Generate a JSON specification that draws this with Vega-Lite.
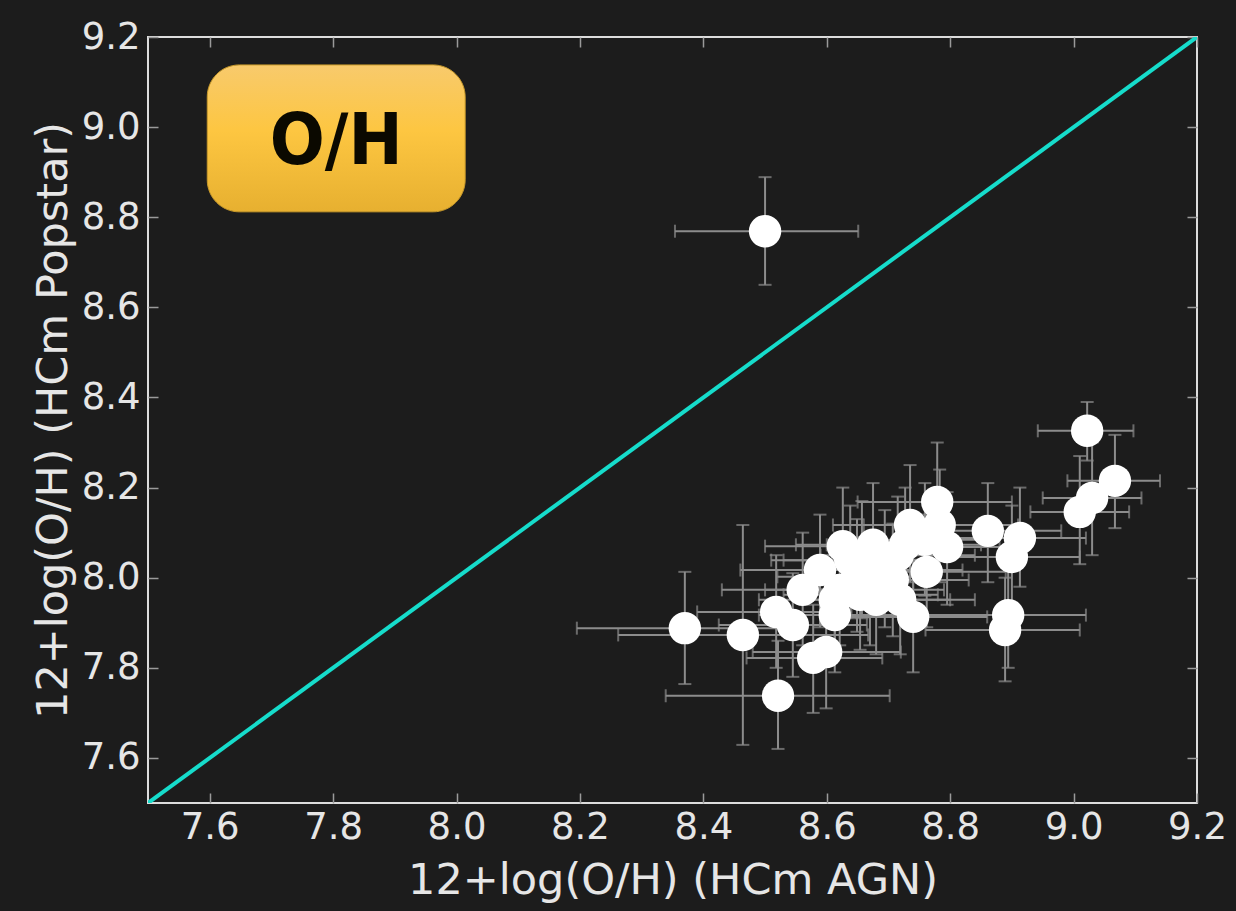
{
  "$schema": "https://vega.github.io/schema/vega-lite/v6.json",
  "width": 1049,
  "height": 766,
  "autosize": {"type": "none"},
  "padding": {"left": 148, "top": 37, "right": 39, "bottom": 108},
  "background": "#1c1c1c",
  "config": {
    "view": {"stroke": "#dcdcdc", "strokeWidth": 2},
    "axis": {
      "grid": false,
      "domain": false,
      "tickColor": "#9a9a9a",
      "tickWidth": 1.5,
      "tickSize": 10,
      "offset": -10,
      "labelFlush": false,
      "labelFont": "DejaVu Sans",
      "labelFontSize": 37,
      "labelColor": "#e6e6e6",
      "titleFont": "DejaVu Sans",
      "titleFontSize": 43,
      "titleFontWeight": "normal",
      "titleColor": "#e6e6e6"
    }
  },
  "datasets": {
    "pts": [
      {"x": 8.500, "y": 8.769, "xlo": 8.354, "xhi": 8.651, "ylo": 8.650, "yhi": 8.889},
      {"x": 8.370, "y": 7.888, "xlo": 8.195, "xhi": 8.545, "ylo": 7.764, "yhi": 8.013},
      {"x": 8.464, "y": 7.873, "xlo": 8.262, "xhi": 8.667, "ylo": 7.629, "yhi": 8.117},
      {"x": 8.521, "y": 7.738, "xlo": 8.339, "xhi": 8.702, "ylo": 7.620, "yhi": 7.860},
      {"x": 8.518, "y": 7.924, "xlo": 8.390, "xhi": 8.640, "ylo": 7.800, "yhi": 8.050},
      {"x": 8.545, "y": 7.895, "xlo": 8.425, "xhi": 8.665, "ylo": 7.780, "yhi": 8.010},
      {"x": 8.578, "y": 7.822, "xlo": 8.470, "xhi": 8.690, "ylo": 7.700, "yhi": 7.940},
      {"x": 8.599, "y": 7.835, "xlo": 8.480, "xhi": 8.720, "ylo": 7.710, "yhi": 7.960},
      {"x": 8.613, "y": 7.917, "xlo": 8.490, "xhi": 8.740, "ylo": 7.790, "yhi": 8.040},
      {"x": 8.561, "y": 7.973, "xlo": 8.430, "xhi": 8.690, "ylo": 7.850, "yhi": 8.100},
      {"x": 8.589, "y": 8.017, "xlo": 8.460, "xhi": 8.720, "ylo": 7.890, "yhi": 8.140},
      {"x": 8.626, "y": 8.070, "xlo": 8.500, "xhi": 8.750, "ylo": 7.940, "yhi": 8.200},
      {"x": 8.675, "y": 8.073, "xlo": 8.550, "xhi": 8.800, "ylo": 7.940, "yhi": 8.210},
      {"x": 8.649, "y": 8.002, "xlo": 8.520, "xhi": 8.780, "ylo": 7.880, "yhi": 8.130},
      {"x": 8.621, "y": 7.973, "xlo": 8.500, "xhi": 8.740, "ylo": 7.850, "yhi": 8.100},
      {"x": 8.707, "y": 7.995, "xlo": 8.580, "xhi": 8.830, "ylo": 7.870, "yhi": 8.120},
      {"x": 8.680, "y": 7.951, "xlo": 8.560, "xhi": 8.800, "ylo": 7.830, "yhi": 8.080},
      {"x": 8.740, "y": 7.913, "xlo": 8.620, "xhi": 8.860, "ylo": 7.790, "yhi": 8.040},
      {"x": 8.762, "y": 8.013, "xlo": 8.640, "xhi": 8.890, "ylo": 7.890, "yhi": 8.140},
      {"x": 8.735, "y": 8.117, "xlo": 8.610, "xhi": 8.860, "ylo": 7.990, "yhi": 8.250},
      {"x": 8.779, "y": 8.168, "xlo": 8.650, "xhi": 8.900, "ylo": 8.040, "yhi": 8.300},
      {"x": 8.795, "y": 8.068, "xlo": 8.670, "xhi": 8.920, "ylo": 7.940, "yhi": 8.190},
      {"x": 8.783, "y": 8.117, "xlo": 8.660, "xhi": 8.910, "ylo": 7.990, "yhi": 8.240},
      {"x": 8.715, "y": 8.050, "xlo": 8.590, "xhi": 8.840, "ylo": 7.920, "yhi": 8.180},
      {"x": 8.657, "y": 8.039, "xlo": 8.530, "xhi": 8.780, "ylo": 7.910, "yhi": 8.170},
      {"x": 8.638, "y": 8.039, "xlo": 8.510, "xhi": 8.770, "ylo": 7.910, "yhi": 8.160},
      {"x": 8.694, "y": 8.017, "xlo": 8.570, "xhi": 8.820, "ylo": 7.890, "yhi": 8.150},
      {"x": 8.727, "y": 8.073, "xlo": 8.600, "xhi": 8.850, "ylo": 7.950, "yhi": 8.200},
      {"x": 8.759, "y": 8.084, "xlo": 8.630, "xhi": 8.880, "ylo": 7.960, "yhi": 8.210},
      {"x": 8.670, "y": 7.973, "xlo": 8.550, "xhi": 8.790, "ylo": 7.850, "yhi": 8.100},
      {"x": 8.719, "y": 7.951, "xlo": 8.600, "xhi": 8.840, "ylo": 7.830, "yhi": 8.070},
      {"x": 8.613, "y": 7.951, "xlo": 8.490, "xhi": 8.740, "ylo": 7.830, "yhi": 8.080},
      {"x": 8.654, "y": 7.962, "xlo": 8.530, "xhi": 8.780, "ylo": 7.840, "yhi": 8.090},
      {"x": 8.861, "y": 8.104, "xlo": 8.740, "xhi": 8.980, "ylo": 7.990, "yhi": 8.210},
      {"x": 8.913, "y": 8.088, "xlo": 8.800, "xhi": 9.020, "ylo": 7.980, "yhi": 8.200},
      {"x": 8.900, "y": 8.046, "xlo": 8.780, "xhi": 9.010, "ylo": 7.930, "yhi": 8.160},
      {"x": 8.894, "y": 7.917, "xlo": 8.760, "xhi": 9.020, "ylo": 7.800, "yhi": 8.030},
      {"x": 8.889, "y": 7.884, "xlo": 8.760, "xhi": 9.010, "ylo": 7.770, "yhi": 8.000},
      {"x": 9.022, "y": 8.326, "xlo": 8.942, "xhi": 9.097, "ylo": 8.260, "yhi": 8.390},
      {"x": 9.067, "y": 8.215, "xlo": 8.990, "xhi": 9.140, "ylo": 8.110, "yhi": 8.317},
      {"x": 9.030, "y": 8.177, "xlo": 8.950, "xhi": 9.110, "ylo": 8.050, "yhi": 8.300},
      {"x": 9.010, "y": 8.146, "xlo": 8.930, "xhi": 9.090, "ylo": 8.030, "yhi": 8.270}
    ],
    "diag": [{"x": 7.5, "y": 7.5}, {"x": 9.2, "y": 9.2}],
    "badge": [{"x1": 7.596, "x2": 8.014, "y1": 8.812, "y2": 9.138, "xc": 7.805, "yc": 8.972, "label": "O/H"}]
  },
  "layer": [
    {
      "data": {"name": "diag"},
      "mark": {"type": "line", "color": "#16dccb", "strokeWidth": 4, "clip": true},
      "encoding": {
        "x": {"field": "x", "type": "quantitative", "scale": {"domain": [7.5, 9.2], "nice": false, "zero": false},
              "axis": {"orient": "top", "labels": false, "title": null, "values": [7.6, 7.8, 8.0, 8.2, 8.4, 8.6, 8.8, 9.0, 9.2]}},
        "y": {"field": "y", "type": "quantitative", "scale": {"domain": [7.5, 9.2], "nice": false, "zero": false},
              "axis": {"orient": "right", "labels": false, "title": null, "values": [7.6, 7.8, 8.0, 8.2, 8.4, 8.6, 8.8, 9.0, 9.2]}}
      }
    },
    {
      "data": {"name": "badge"},
      "mark": {"type": "rect", "cornerRadius": 32, "stroke": "#c99a2a", "strokeWidth": 1,
               "fill": {"gradient": "linear", "x1": 0, "y1": 0, "x2": 0, "y2": 1,
                        "stops": [{"offset": 0, "color": "#f8ca6c"}, {"offset": 0.45, "color": "#fdc641"}, {"offset": 1, "color": "#e7b030"}]}},
      "encoding": {
        "x": {"field": "x1", "type": "quantitative", "axis": null},
        "x2": {"field": "x2"},
        "y": {"field": "y1", "type": "quantitative", "axis": null},
        "y2": {"field": "y2"}
      }
    },
    {
      "data": {"name": "badge"},
      "mark": {"type": "text", "font": "DejaVu Sans Condensed, Liberation Sans Narrow, DejaVu Sans", "fontWeight": "bold", "fontSize": 72, "color": "#0b0900", "baseline": "middle", "align": "center", "dy": 2},
      "encoding": {
        "x": {"field": "xc", "type": "quantitative", "axis": null},
        "y": {"field": "yc", "type": "quantitative", "axis": null},
        "text": {"field": "label"}
      }
    },
    {
      "data": {"name": "pts"},
      "mark": {"type": "rule", "color": "#8c8c8c", "strokeWidth": 2},
      "encoding": {
        "x": {"field": "xlo", "type": "quantitative", "axis": null},
        "x2": {"field": "xhi"},
        "y": {"field": "y", "type": "quantitative", "axis": null}
      }
    },
    {
      "data": {"name": "pts"},
      "mark": {"type": "rule", "color": "#8c8c8c", "strokeWidth": 2},
      "encoding": {
        "x": {"field": "x", "type": "quantitative", "axis": null},
        "y": {"field": "ylo", "type": "quantitative", "axis": null},
        "y2": {"field": "yhi"}
      }
    },
    {
      "data": {"name": "pts"},
      "mark": {"type": "tick", "orient": "horizontal", "color": "#8c8c8c", "size": 13, "thickness": 2},
      "encoding": {
        "x": {"field": "x", "type": "quantitative", "axis": null},
        "y": {"field": "ylo", "type": "quantitative", "axis": null}
      }
    },
    {
      "data": {"name": "pts"},
      "mark": {"type": "tick", "orient": "horizontal", "color": "#8c8c8c", "size": 13, "thickness": 2},
      "encoding": {
        "x": {"field": "x", "type": "quantitative", "axis": null},
        "y": {"field": "yhi", "type": "quantitative", "axis": null}
      }
    },
    {
      "data": {"name": "pts"},
      "mark": {"type": "tick", "orient": "vertical", "color": "#8c8c8c", "size": 13, "thickness": 2},
      "encoding": {
        "x": {"field": "xlo", "type": "quantitative", "axis": null},
        "y": {"field": "y", "type": "quantitative", "axis": null}
      }
    },
    {
      "data": {"name": "pts"},
      "mark": {"type": "tick", "orient": "vertical", "color": "#8c8c8c", "size": 13, "thickness": 2},
      "encoding": {
        "x": {"field": "xhi", "type": "quantitative", "axis": null},
        "y": {"field": "y", "type": "quantitative", "axis": null}
      }
    },
    {
      "data": {"name": "pts"},
      "mark": {"type": "point", "filled": true, "shape": "circle", "color": "#ffffff", "opacity": 1, "size": 1050},
      "encoding": {
        "x": {"field": "x", "type": "quantitative",
              "axis": {"orient": "bottom", "title": "12+log(O/H) (HCm AGN)", "values": [7.6, 7.8, 8.0, 8.2, 8.4, 8.6, 8.8, 9.0, 9.2], "format": ".1f", "labelPadding": 6, "titlePadding": 14}},
        "y": {"field": "y", "type": "quantitative",
              "axis": {"orient": "left", "title": "12+log(O/H) (HCm Popstar)", "values": [7.6, 7.8, 8.0, 8.2, 8.4, 8.6, 8.8, 9.0, 9.2], "format": ".1f", "labelPadding": 8, "titlePadding": 6}}
      }
    }
  ],
  "resolve": {"axis": {"x": "independent", "y": "independent"}}
}
